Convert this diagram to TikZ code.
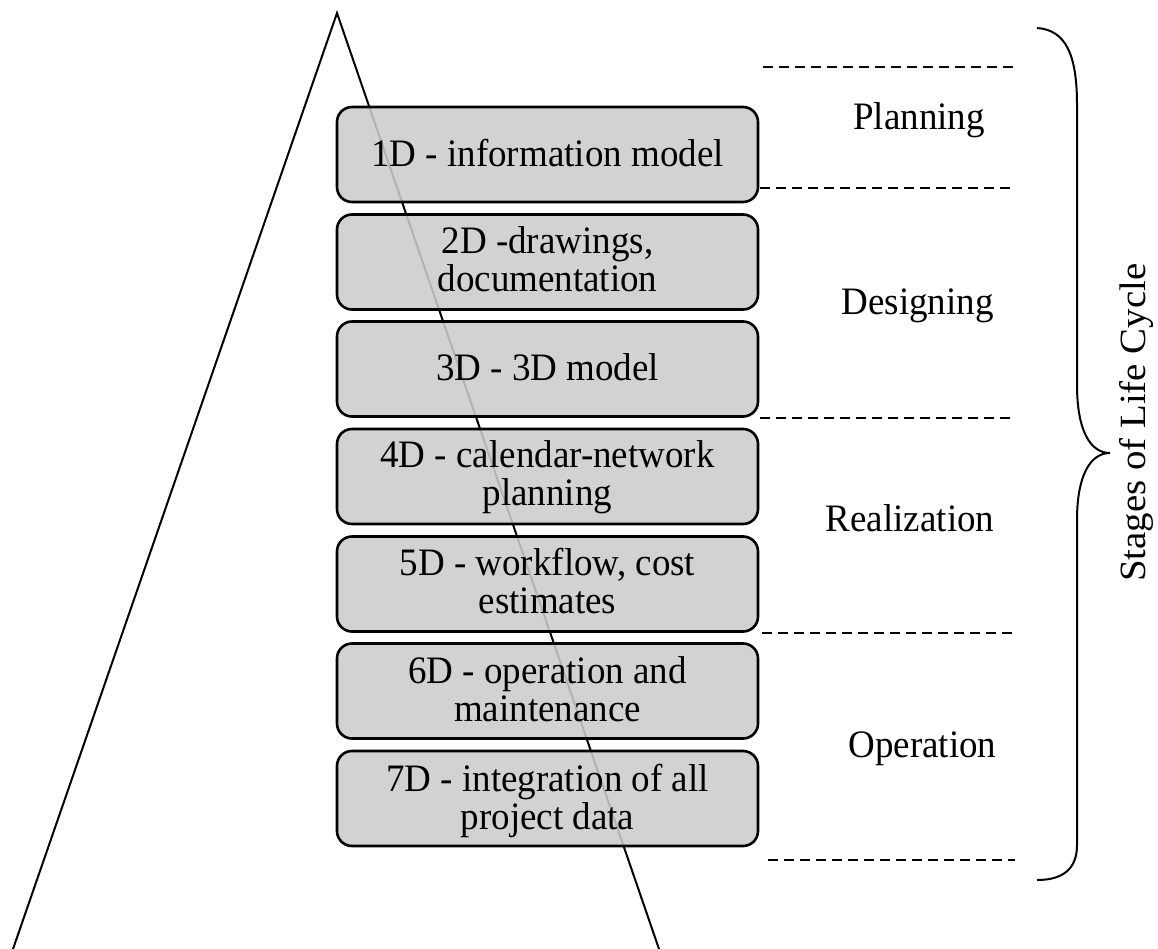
\documentclass[tikz,border=0pt]{standalone}
\usepackage{fontspec}
\setmainfont{Liberation Serif}[FakeStretch=0.952]
\newfontfamily\lifefont{Liberation Serif}[FakeStretch=1.05]
\begin{document}
\begin{tikzpicture}[x=1pt,y=-1pt,
  every node/.style={font=\fontsize{38.85}{38}\selectfont, inner sep=0pt},
  stagebox/.style={draw=black, line width=2.6pt, rounded corners=15pt,
    fill=gray!40, fill opacity=0.875, text opacity=1,
    minimum width=421pt, minimum height=95pt},
  boxtext/.style={anchor=base, align=center},
  phase/.style={anchor=base},
  sep/.style={line width=2pt, dash pattern=on 10pt off 6pt},
  tri/.style={line width=2pt},
  bracest/.style={line width=2pt}
]
\useasboundingbox (0,0) rectangle (1158,949);

% triangle
\coordinate (apex) at (337,13);
\coordinate (bl) at (13,949);
\coordinate (br) at (659,949);
\draw[tri] (bl) -- (apex) -- (br);

% boxes
\node[stagebox] (b1) at (547.5,154.5) {};
\node[stagebox] (b2) at (547.5,262) {};
\node[stagebox] (b3) at (547.5,369) {};
\node[stagebox] (b4) at (547.5,476.5) {};
\node[stagebox] (b5) at (547.5,584) {};
\node[stagebox] (b6) at (547.5,691) {};
\node[stagebox] (b7) at (547.5,798.5) {};

% texts (base anchor = baseline of the last line)
\node[boxtext] (t1) at (547.5,167) {1D - information model};
\node[boxtext] (t2) at (547.5,291) {2D -drawings,\\documentation};
\node[boxtext] (t3) at (547.5,380) {3D - 3D model};
\node[boxtext] (t4) at (547.5,505) {4D - calendar-network\\planning};
\node[boxtext] (t5) at (547.5,613) {5D - workflow, cost\\estimates};
\node[boxtext] (t6) at (547.5,721) {6D - operation and\\maintenance};
\node[boxtext] (t7) at (547.5,829) {7D - integration of all\\project data};

% separators
\coordinate (s1a) at (763,67);  \coordinate (s1b) at (1013,67);
\coordinate (s2a) at (760,188); \coordinate (s2b) at (1013,188);
\coordinate (s3a) at (760,418); \coordinate (s3b) at (1011,418);
\coordinate (s4a) at (762,633); \coordinate (s4b) at (1012,633);
\coordinate (s5a) at (768,860); \coordinate (s5b) at (1015,860);
\draw[sep] (s1a) -- (s1b);
\draw[sep] (s2a) -- (s2b);
\draw[sep] (s3a) -- (s3b);
\draw[sep] (s4a) -- (s4b);
\draw[sep] (s5a) -- (s5b);

% phases
\node[phase] (p1) at (919,130) {Planning};
\node[phase] (p2) at (917.5,315) {Designing};
\node[phase] (p3) at (910,531) {Realization};
\node[phase] (p4) at (922.5,757) {Operation};

% brace
\draw[bracest] (1037,28) .. controls (1066,30) and (1077,55) .. (1077,105)
  -- (1077,385) .. controls (1077,430) and (1090,453) .. (1110,453)
  .. controls (1090,453) and (1077,476) .. (1077,520)
  -- (1077,845) .. controls (1077,868) and (1064,880) .. (1037,880);

\node[anchor=base west, rotate=90, font=\lifefont\fontsize{37}{38}\selectfont] (life) at (1145,582) {Stages of Life Cycle};
\end{tikzpicture}
\end{document}
